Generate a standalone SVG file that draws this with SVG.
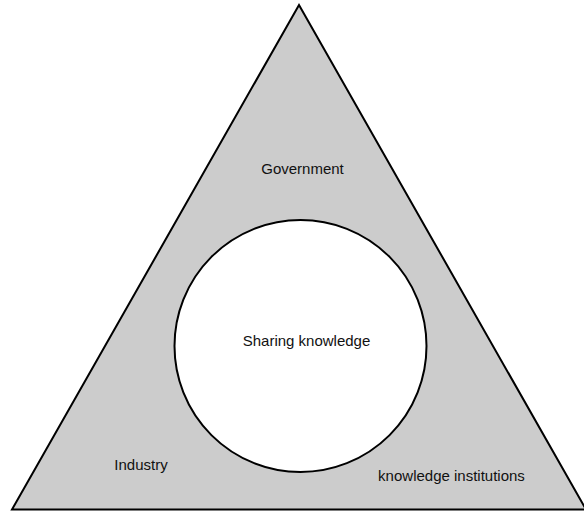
<svg xmlns="http://www.w3.org/2000/svg" width="584" height="511" viewBox="0 0 584 511">
  <style>
    .shape { stroke: #000; stroke-width: 2; stroke-linejoin: miter; }
    .label { font-family: "Liberation Sans", Arial, sans-serif; font-size: 15px; fill: #111; }
  </style>
  <rect width="584" height="511" fill="#fff"/>
  <g id="triangle">
    <polygon class="shape" points="299,5 586,509.5 12,509.5" fill="#cccccc"/>
  </g>
  <g id="circle">
    <circle class="shape" cx="300.5" cy="346" r="126" fill="#fff"/>
  </g>
  <g id="government">
    <text class="label" x="302.5" y="174" text-anchor="middle">Government</text>
  </g>
  <g id="sharing">
    <text class="label" x="306.5" y="346" text-anchor="middle">Sharing knowledge</text>
  </g>
  <g id="industry">
    <text class="label" x="141" y="470" text-anchor="middle">Industry</text>
  </g>
  <g id="institutions">
    <text class="label" x="451.5" y="481" text-anchor="middle">knowledge institutions</text>
  </g>
</svg>
